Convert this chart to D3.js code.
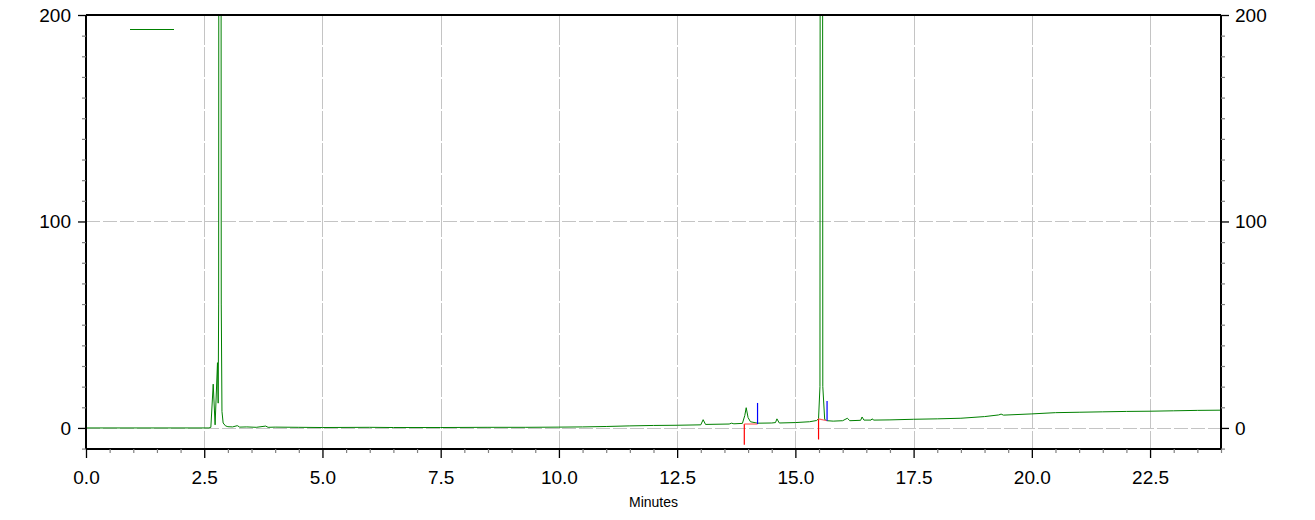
<!DOCTYPE html>
<html>
<head>
<meta charset="utf-8">
<script src="https://cdn.jsdelivr.net/npm/d3@7"></script>
<style>
  html, body { margin: 0; padding: 0; background: #fff; }
  svg { display: block; font-family: "Liberation Sans", Arial, sans-serif; }
</style>
</head>
<body>
<svg id="chart" width="1315" height="520"></svg>
<script>
// ---- data ----
const times = [0, 2.60, 2.64, 2.69, 2.73, 2.78, 2.795, 2.805, 2.83, 2.86, 2.875, 2.90, 2.95, 3.0, 3.1, 3.2, 3.25, 3.4, 3.6, 3.8, 3.85, 4.0, 4.5, 5.0, 6.0, 6.5, 7.5, 8.5, 9.3, 10.0, 10.5, 11.0, 11.5, 12.0, 12.5, 13.0, 13.05, 13.1, 13.6, 13.65, 13.7, 13.88, 13.93, 13.96, 14.0, 14.05, 14.2, 14.5, 14.58, 14.61, 14.66, 15.0, 15.3, 15.45, 15.49, 15.52, 15.55, 15.58, 15.62, 15.67, 15.8, 16.0, 16.1, 16.15, 16.38, 16.41, 16.45, 16.6, 16.62, 16.66, 17.0, 17.5, 18.0, 18.5, 19.0, 19.3, 19.35, 19.4, 20.0, 20.5, 21.0, 21.5, 22.0, 22.5, 23.0, 23.5, 24.0];
const signal = [0, 0, 0.3, 21.2, 1.5, 31.6, 12, 60, 1500, 60, 8, 2.4, 1.0, 0.6, 0.5, 1.1, 0.4, 0.5, 0.3, 0.9, 0.3, 0.4, 0.3, 0.2, 0.3, 0.2, 0.2, 0.3, 0.3, 0.4, 0.5, 0.7, 1.0, 1.2, 1.3, 1.5, 4.0, 1.7, 1.9, 2.3, 2.0, 2.2, 6, 9.8, 5, 3.0, 2.3, 2.4, 2.6, 4.4, 2.4, 2.6, 3.0, 3.6, 4.5, 20, 1500, 20, 4, 3.5, 3.3, 3.5, 4.7, 3.5, 3.7, 5.3, 3.8, 3.8, 4.4, 3.8, 3.9, 4.2, 4.4, 4.7, 5.5, 6.3, 6.7, 6.2, 6.8, 7.4, 7.6, 7.8, 8.0, 8.1, 8.3, 8.5, 8.6];

// integration markers
const redTimes = [13.92, 15.49];
const redTop = [1.9, 4.4];
const redBottom = [-8.2, -5.6];
const blueTimes = [14.20, 15.67];
const blueTop = [12.1, 13.1];
const blueBottom = [1.9, 3.5];

const xTickValues = [0, 2.5, 5, 7.5, 10, 12.5, 15, 17.5, 20, 22.5];
const yTickValues = [0, 100, 200];
const xLabel = "Minutes";

// ---- layout ----
const svg = d3.select("#chart");
const L = 86, R = 1221, T = 15, B = 449;
const x = d3.scaleLinear().domain([0, 24]).range([L, R]);
const y = d3.scaleLinear().domain([-10.2, 200]).range([B, T]);

const minorX = d3.range(0, 24.001, 0.5).filter(v => !xTickValues.some(t => Math.abs(t - v) < 1e-6));
const minorY = d3.range(-10, 200.001, 10).filter(v => !yTickValues.includes(Math.round(v)));

// grid
const grid = svg.append("g").attr("stroke", "#c4c4c4").attr("stroke-width", 1);
grid.selectAll("line.vx").data(xTickValues.filter(v => v > 0)).join("line")
  .attr("stroke-dasharray", "30,2")
  .attr("x1", d => Math.round(x(d)) + 0.5).attr("x2", d => Math.round(x(d)) + 0.5)
  .attr("y1", T).attr("y2", B);
grid.selectAll("line.hy").data([0, 100]).join("line")
  .attr("stroke-dasharray", "14,3")
  .attr("x1", L).attr("x2", R)
  .attr("y1", d => Math.round(y(d)) + 0.5).attr("y2", d => Math.round(y(d)) + 0.5);

// clip
svg.append("clipPath").attr("id", "clip").append("rect")
  .attr("x", L).attr("y", T).attr("width", R - L).attr("height", B - T);

const pts = times.map((t, i) => [t, signal[i]]);
const line = d3.line().x(d => x(d[0])).y(d => y(d[1]));
svg.append("path").attr("clip-path", "url(#clip)")
  .datum(pts).attr("d", line)
  .attr("fill", "none").attr("stroke", "#008000").attr("stroke-width", 1);

// markers
const mk = svg.append("g").attr("clip-path", "url(#clip)");
redTimes.forEach((t, i) => {
  mk.append("line").attr("x1", x(t)).attr("x2", x(t)).attr("y1", y(redTop[i])).attr("y2", y(redBottom[i]))
    .attr("stroke", "#ff0000").attr("stroke-width", 1.2);
  mk.append("line").attr("x1", x(t)).attr("x2", x(blueTimes[i])).attr("y1", y(redTop[i])).attr("y2", y(blueBottom[i]))
    .attr("stroke", "#ff6060").attr("stroke-width", 1.2);
});
blueTimes.forEach((t, i) => {
  mk.append("line").attr("x1", x(t)).attr("x2", x(t)).attr("y1", y(blueTop[i])).attr("y2", y(blueBottom[i]))
    .attr("stroke", "#0000ff").attr("stroke-width", 1.2);
});

// legend line
svg.append("line").attr("x1", 130).attr("x2", 174).attr("y1", 29.5).attr("y2", 29.5)
  .attr("stroke", "#008000").attr("stroke-width", 1);

// axes frame
const axisG = svg.append("g").attr("stroke", "#000").attr("stroke-width", 1.3).attr("shape-rendering", "crispEdges");
axisG.append("line").attr("x1", L).attr("x2", R).attr("y1", T).attr("y2", T);
axisG.append("line").attr("x1", L).attr("x2", R).attr("y1", B).attr("y2", B);
axisG.append("line").attr("x1", L).attr("x2", L).attr("y1", T).attr("y2", B);
axisG.append("line").attr("x1", R).attr("x2", R).attr("y1", T).attr("y2", B);

// x axis ticks
const xAxis = svg.append("g").attr("transform", `translate(0,${B})`)
  .call(d3.axisBottom(x).tickValues(xTickValues).tickFormat(d3.format(".1f")).tickSize(9).tickPadding(13));
xAxis.select(".domain").remove();
xAxis.selectAll("line").attr("stroke", "#000").attr("stroke-width", 1.3);
xAxis.selectAll("text").attr("font-size", 19).attr("fill", "#000").attr("font-family", "Liberation Sans, Arial, sans-serif");
const xMinor = svg.append("g").attr("transform", `translate(0,${B})`)
  .call(d3.axisBottom(x).tickValues(minorX).tickFormat("").tickSize(4));
xMinor.select(".domain").remove();
xMinor.selectAll("line").attr("stroke", "#808080").attr("stroke-width", 1.2);

// left y axis
const yLeft = svg.append("g").attr("transform", `translate(${L},0)`)
  .call(d3.axisLeft(y).tickValues(yTickValues).tickSize(8).tickPadding(7));
yLeft.select(".domain").remove();
yLeft.selectAll("line").attr("stroke", "#000").attr("stroke-width", 1.3);
yLeft.selectAll("text").attr("font-size", 19).attr("fill", "#000").attr("font-family", "Liberation Sans, Arial, sans-serif");
const yLeftMinor = svg.append("g").attr("transform", `translate(${L},0)`)
  .call(d3.axisLeft(y).tickValues(minorY).tickFormat("").tickSize(4));
yLeftMinor.select(".domain").remove();
yLeftMinor.selectAll("line").attr("stroke", "#808080").attr("stroke-width", 1.2);

// right y axis
const yRight = svg.append("g").attr("transform", `translate(${R},0)`)
  .call(d3.axisRight(y).tickValues(yTickValues).tickSize(8).tickPadding(6));
yRight.select(".domain").remove();
yRight.selectAll("line").attr("stroke", "#000").attr("stroke-width", 1.3);
yRight.selectAll("text").attr("font-size", 19).attr("fill", "#000").attr("font-family", "Liberation Sans, Arial, sans-serif");
const yRightMinor = svg.append("g").attr("transform", `translate(${R},0)`)
  .call(d3.axisRight(y).tickValues(minorY).tickFormat("").tickSize(4));
yRightMinor.select(".domain").remove();
yRightMinor.selectAll("line").attr("stroke", "#808080").attr("stroke-width", 1.2);

// x label
svg.append("text").attr("x", (L + R) / 2).attr("y", 507).attr("text-anchor", "middle")
  .attr("font-size", 14).attr("fill", "#000").text(xLabel);
</script>
</body>
</html>
